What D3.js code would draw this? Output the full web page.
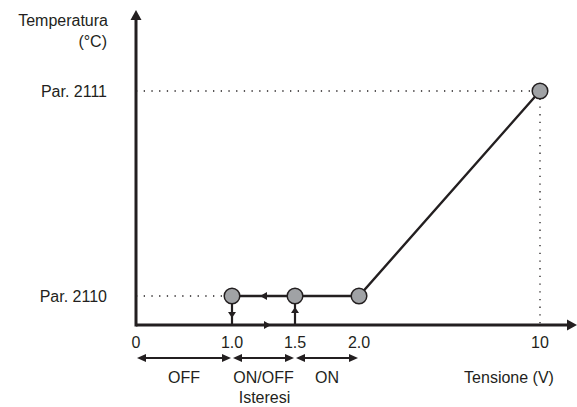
<!DOCTYPE html>
<html>
<head>
<meta charset="utf-8">
<script src="https://cdn.jsdelivr.net/npm/d3@7"></script>
<style>
body { margin: 0; background: #fff; }
text { font-family: "Liberation Sans", Arial, sans-serif; font-size: 16px; fill: #231f20; }
</style>
</head>
<body>
<div class="chart"></div>
<script>
var xTicks = [0, 1.0, 1.5, 2.0, 10];
var xTickLabels = ["0", "1.0", "1.5", "2.0", "10"];
var yLevels = [0, 1, 2];
var yLabels = ["", "Par. 2110", "Par. 2111"];
var curveV = [1.0, 1.5, 2.0, 10];
var curveT = [1, 1, 1, 2];
var zoneFrom = [0, 1.0, 1.5];
var zoneTo = [1.0, 1.5, 2.0];
var zoneLabels = ["OFF", "ON/OFF", "ON"];
var zoneSub = ["", "Isteresi", ""];

var ink = "#231f20";
var x = d3.scaleLinear().domain(xTicks).range([136, 232, 295, 359, 540]);
var y = d3.scaleLinear().domain(yLevels).range([325, 296, 91]);

var svg = d3.select(".chart").append("svg")
	.attr("width", 577)
	.attr("height", 407);

// triangle arrow head, tip at (tx,ty)
function head(tx, ty, dir, len, hw) {
	var p;
	if (dir == "right") p = [[tx, ty], [tx - len, ty - hw], [tx - len, ty + hw]];
	if (dir == "left") p = [[tx, ty], [tx + len, ty - hw], [tx + len, ty + hw]];
	if (dir == "up") p = [[tx, ty], [tx - hw, ty + len], [tx + hw, ty + len]];
	if (dir == "down") p = [[tx, ty], [tx - hw, ty - len], [tx + hw, ty - len]];
	svg.append("path").attr("d", "M" + p.join("L") + "Z").attr("fill", ink);
}

// dotted guides
svg.append("line").attr("x1", x(0)).attr("x2", x(curveV[0])).attr("y1", y(1)).attr("y2", y(1))
	.attr("stroke", ink).attr("stroke-width", 1.3).attr("stroke-dasharray", "1.3,6.4");
svg.append("line").attr("x1", x(0)).attr("x2", x(10)).attr("y1", y(2)).attr("y2", y(2))
	.attr("stroke", ink).attr("stroke-width", 1.3).attr("stroke-dasharray", "1.3,6.4");
svg.append("line").attr("x1", x(10)).attr("x2", x(10)).attr("y1", y(2)).attr("y2", y(0))
	.attr("stroke", ink).attr("stroke-width", 1.3).attr("stroke-dasharray", "1.3,6.4");

// hysteresis verticals
svg.append("line").attr("x1", x(1.0)).attr("x2", x(1.0)).attr("y1", y(1)).attr("y2", y(0))
	.attr("stroke", ink).attr("stroke-width", 2.2);
svg.append("line").attr("x1", x(1.5)).attr("x2", x(1.5)).attr("y1", y(1)).attr("y2", y(0))
	.attr("stroke", ink).attr("stroke-width", 2.2);
head(x(1.0), 318, "down", 6, 4);
head(x(1.5), 307, "up", 6, 4);

// curve
var line = d3.line().x(function(d, i) { return x(curveV[i]); }).y(function(d, i) { return y(curveT[i]); });
svg.append("path").attr("d", line(curveV)).attr("fill", "none").attr("stroke", ink).attr("stroke-width", 2.4);
head(260, y(1), "left", 7, 4);

// axes
svg.append("line").attr("x1", x(0)).attr("x2", 568).attr("y1", y(0)).attr("y2", y(0))
	.attr("stroke", ink).attr("stroke-width", 3);
head(577, y(0), "right", 10, 5.5);
svg.append("line").attr("x1", x(0)).attr("x2", x(0)).attr("y1", y(0) + 1.5).attr("y2", 18)
	.attr("stroke", ink).attr("stroke-width", 3);
head(x(0), 10, "up", 10, 5.5);
head(271, y(0), "right", 7, 4);

// points
svg.selectAll("circle.pt").data(curveV).enter().append("circle").attr("class", "pt")
	.attr("cx", function(d) { return x(d); })
	.attr("cy", function(d, i) { return y(curveT[i]); })
	.attr("r", 7.8)
	.attr("fill", "#a0a2a5")
	.attr("stroke", ink)
	.attr("stroke-width", 1.5);

// tick labels
svg.selectAll("text.xt").data(xTicks).enter().append("text").attr("class", "xt")
	.attr("x", function(d) { return x(d); })
	.attr("y", 348)
	.attr("text-anchor", "middle")
	.text(function(d, i) { return xTickLabels[i]; });
svg.selectAll("text.yt").data([1, 2]).enter().append("text").attr("class", "yt")
	.attr("x", 107)
	.attr("y", function(d) { return y(d) + 6; })
	.attr("text-anchor", "end")
	.text(function(d) { return yLabels[d]; });

// zones
zoneFrom.forEach(function(f, i) {
	var x1 = x(f), x2 = x(zoneTo[i]);
	svg.append("line").attr("x1", x1 + 4).attr("x2", x2 - 4).attr("y1", 358).attr("y2", 358)
		.attr("stroke", ink).attr("stroke-width", 2.2);
	head(x1 + 1, 358, "left", 9, 4);
	head(x2 - 1, 358, "right", 9, 4);
	svg.append("text").attr("x", (x1 + x2) / 2).attr("y", 383).attr("text-anchor", "middle").text(zoneLabels[i]);
	if (zoneSub[i]) svg.append("text").attr("x", (x1 + x2) / 2 + 1).attr("y", 403).attr("text-anchor", "middle").text(zoneSub[i]);
});

// axis titles
svg.append("text").attr("x", 108).attr("y", 26).attr("text-anchor", "end").text("Temperatura");
svg.append("text").attr("x", 107).attr("y", 47).attr("text-anchor", "end").text("(°C)");
svg.append("text").attr("x", 509).attr("y", 383).attr("text-anchor", "middle").text("Tensione (V)");
</script>
</body>
</html>
